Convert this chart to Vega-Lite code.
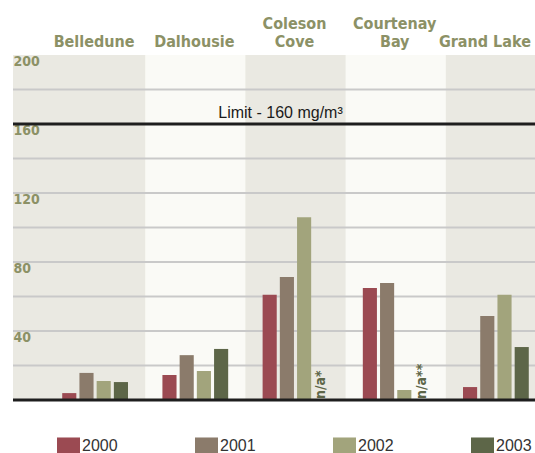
{
  "$schema": "https://vega.github.io/schema/vega-lite/v6.json",
  "width": 522,
  "height": 345,
  "autosize": {"type": "none"},
  "padding": {"left": 13, "top": 55, "right": 0, "bottom": 53},
  "background": "white",
  "config": {
    "view": {"fill": "#eae9e2", "stroke": null},
    "font": "Liberation Sans"
  },
  "datasets": {
    "values": [
      {"location": "Belledune", "year": "2000", "value": 4},
      {"location": "Belledune", "year": "2001", "value": 15.7},
      {"location": "Belledune", "year": "2002", "value": 11},
      {"location": "Belledune", "year": "2003", "value": 10.4},
      {"location": "Dalhousie", "year": "2000", "value": 14.5},
      {"location": "Dalhousie", "year": "2001", "value": 26},
      {"location": "Dalhousie", "year": "2002", "value": 16.8},
      {"location": "Dalhousie", "year": "2003", "value": 29.6},
      {"location": "Coleson Cove", "year": "2000", "value": 61},
      {"location": "Coleson Cove", "year": "2001", "value": 71.3},
      {"location": "Coleson Cove", "year": "2002", "value": 106},
      {"location": "Courtenay Bay", "year": "2000", "value": 65},
      {"location": "Courtenay Bay", "year": "2001", "value": 67.8},
      {"location": "Courtenay Bay", "year": "2002", "value": 5.8},
      {"location": "Grand Lake", "year": "2000", "value": 7.5},
      {"location": "Grand Lake", "year": "2001", "value": 48.7},
      {"location": "Grand Lake", "year": "2002", "value": 61},
      {"location": "Grand Lake", "year": "2003", "value": 30.7}
    ],
    "bands": [{"location": "Dalhousie"}, {"location": "Courtenay Bay"}],
    "grid": [{"v": 20}, {"v": 40}, {"v": 60}, {"v": 80}, {"v": 100}, {"v": 120}, {"v": 140}, {"v": 180}],
    "lines": [{"v": 0}, {"v": 160}],
    "notes": [
      {"location": "Coleson Cove", "year": "2003", "note": "n/a*"},
      {"location": "Courtenay Bay", "year": "2003", "note": "n/a**"}
    ],
    "limit": [{"label": "Limit - 160 mg/m³"}]
  },
  "encoding": {
    "x": {
      "field": "location",
      "type": "nominal",
      "scale": {
        "domain": ["Belledune", "Dalhousie", "Coleson Cove", "Courtenay Bay", "Grand Lake"],
        "range": [32, 533],
        "paddingInner": 0,
        "paddingOuter": 0
      },
      "axis": {
        "orient": "top",
        "title": null,
        "ticks": false,
        "domain": false,
        "grid": false,
        "labelAngle": 0,
        "labelPadding": 24,
        "labelFont": "DejaVu Sans Condensed, Roboto Condensed, Liberation Sans Narrow, Roboto",
        "labelFontWeight": "bold",
        "labelFontSize": 16,
        "labelColor": "#8c9166",
        "labelLineHeight": 18,
        "labelBaseline": "bottom",
        "labelOffset": {"condition": {"test": "datum.value == 'Grand Lake'", "value": -11}, "value": -1},
        "labelExpr": "datum.label == 'Coleson Cove' || datum.label == 'Courtenay Bay' ? split(datum.label, ' ') : ['', datum.label]"
      }
    }
  },
  "layer": [
    {
      "data": {"name": "bands"},
      "mark": {"type": "bar", "color": "#fafaf6", "clip": true},
      "encoding": {
        "y": {"datum": 200, "type": "quantitative", "scale": {"domain": [0, 200], "nice": false},
          "axis": {
            "title": null,
            "values": [40, 80, 120, 160, 200],
            "grid": false,
            "ticks": false,
            "domain": false,
            "labelAlign": "left",
            "labelBaseline": "top",
            "labelPadding": 0,
            "labelFlush": false,
            "labelFont": "DejaVu Sans Condensed, Roboto Condensed, Liberation Sans Narrow, Roboto",
            "labelFontWeight": "bold",
            "labelFontSize": 14,
            "labelColor": "#8c9166",
            "labelOffset": -1
          }
        },
        "y2": {"datum": 0}
      }
    },
    {
      "data": {"name": "grid"},
      "mark": {"type": "rule", "color": "#c9c9c9", "strokeWidth": 2},
      "encoding": {"y": {"field": "v", "type": "quantitative"}, "x": null}
    },
    {
      "data": {"name": "values"},
      "mark": {"type": "bar"},
      "encoding": {
        "xOffset": {"field": "year", "type": "nominal", "scale": {"domain": ["2000", "2001", "2002", "2003"], "paddingInner": 0.18, "paddingOuter": 1.03}},
        "y": {"field": "value", "type": "quantitative"},
        "color": {
          "field": "year",
          "type": "nominal",
          "scale": {"domain": ["2000", "2001", "2002", "2003"], "range": ["#9b4a52", "#8b7b6b", "#a2a47c", "#5d6648"]},
          "legend": {
            "title": null,
            "orient": "none",
            "legendX": 44,
            "legendY": 379,
            "direction": "horizontal",
            "columns": 4,
            "columnPadding": 77,
            "padding": 0,
            "symbolType": "M-1,-0.74H1V0.74H-1Z",
            "symbolSize": 529,
            "symbolStrokeWidth": 0,
            "symbolOpacity": 1,
            "labelFont": "Liberation Sans",
            "labelFontSize": 16,
            "labelColor": "#333333",
            "labelOffset": 2
          }
        }
      }
    },
    {
      "data": {"name": "notes"},
      "mark": {"type": "text", "angle": 270, "align": "left", "baseline": "middle", "font": "DejaVu Sans Condensed, Roboto Condensed, Liberation Sans Narrow, Roboto", "fontWeight": "bold", "fontSize": 14, "color": "#5d6648", "dx": 1},
      "encoding": {
        "xOffset": {"field": "year", "type": "nominal"},
        "y": {"datum": 0, "type": "quantitative"},
        "text": {"field": "note"}
      }
    },
    {
      "data": {"name": "lines"},
      "mark": {"type": "rule", "color": "#1e1e1e", "strokeWidth": 3},
      "encoding": {"y": {"field": "v", "type": "quantitative"}, "x": null}
    },
    {
      "data": {"name": "limit"},
      "mark": {"type": "text", "align": "center", "baseline": "bottom", "font": "Liberation Sans", "fontSize": 16, "color": "#1a1a1a", "dx": -15, "dy": -3},
      "encoding": {
        "x": {"datum": "Coleson Cove"},
        "y": {"datum": 160, "type": "quantitative"},
        "text": {"field": "label"}
      }
    }
  ]
}
